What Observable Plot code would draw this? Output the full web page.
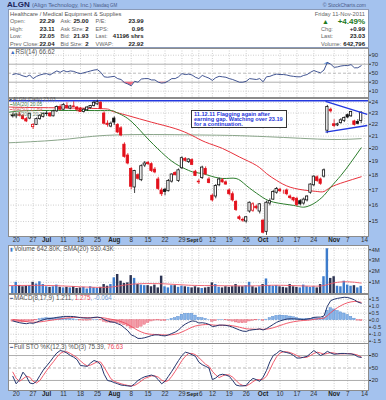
<!DOCTYPE html>
<html><head><meta charset="utf-8">
<script src="https://cdn.jsdelivr.net/npm/d3@7"></script>
<script src="https://cdn.jsdelivr.net/npm/@observablehq/plot@0.6"></script>
<style>
body{margin:0;background:#a4c2ee;font-family:"Liberation Sans",Arial,sans-serif;}
#wrap{position:relative;width:386px;height:400px;overflow:hidden;background:#a4c2ee;}
#info{position:absolute;left:8px;top:9px;width:359px;height:37px;background:#fff;border:1px solid #8a9ab8;}
#note{position:absolute;left:191px;top:110px;width:96px;height:18px;background:#fff;border:1px solid #333;color:#1f35d8;font-weight:bold;font-size:5.6px;line-height:5.2px;padding:1px 0 0 2px;box-sizing:border-box;}
</style></head><body><div id="wrap"><div id="info"></div></div>
<script>
// ---------------- DATA ----------------
const open  = [22.80,22.70,22.85,22.75,22.45,22.50,21.75,21.95,22.45,22.65,22.90,22.95,22.70,23.15,23.55,23.30,23.65,23.40,23.60,23.50,23.40,23.10,23.25,23.45,23.65,23.80,23.95,22.95,22.05,21.80,22.50,21.95,21.65,20.30,19.45,18.45,17.15,18.00,17.65,18.70,18.90,18.80,18.40,17.70,16.95,17.00,16.90,17.55,18.15,17.60,18.50,19.20,18.95,19.10,18.25,17.50,17.80,18.45,17.70,16.60,16.55,17.30,17.65,17.50,16.95,16.70,16.20,15.25,15.10,15.00,15.60,15.65,15.90,15.60,15.05,14.40,16.10,16.35,16.80,17.00,16.85,16.95,16.55,16.45,16.40,16.25,16.10,16.30,16.80,17.30,17.85,17.70,17.90,21.45,23.30,22.00,21.90,22.10,22.30,22.80,22.70,22.25,22.20,22.29];
const high  = [23.00,22.95,23.05,22.85,22.60,22.98,22.05,22.55,22.85,22.98,23.15,23.05,23.25,23.65,23.75,23.85,23.95,23.70,24.05,23.60,23.50,23.40,23.60,23.70,24.10,24.20,24.05,23.10,22.30,22.20,22.65,22.05,21.80,20.45,19.60,18.55,18.35,18.10,18.75,19.00,19.00,18.90,18.55,17.85,17.10,17.10,17.70,18.10,18.25,18.45,19.35,19.30,19.20,19.20,18.35,17.70,18.65,18.60,17.85,16.70,17.35,17.80,17.75,17.60,17.05,16.85,16.30,15.35,15.20,15.30,16.20,16.15,16.00,16.10,15.10,16.25,16.40,16.95,17.15,17.10,16.95,17.05,16.65,16.50,16.50,16.35,16.45,16.60,17.40,17.95,17.95,17.80,18.45,23.70,23.45,22.40,22.10,22.50,22.65,22.90,23.15,22.35,22.40,23.11];
const low   = [22.55,22.50,22.65,22.35,22.15,22.40,21.55,21.90,22.35,22.55,22.70,22.60,22.65,23.05,23.20,23.25,23.35,23.30,23.50,23.10,23.05,23.00,23.15,23.35,23.55,23.70,23.30,21.95,21.75,21.70,21.90,21.20,20.95,19.25,18.75,17.00,16.75,17.65,17.55,18.55,18.70,18.20,18.10,16.95,16.55,16.60,16.85,17.45,17.95,17.50,18.40,18.95,18.85,18.70,17.90,17.35,17.70,18.00,17.40,16.20,16.40,17.20,17.45,17.30,16.60,16.20,15.60,15.05,14.95,14.90,15.50,15.55,15.70,15.45,14.30,14.20,15.95,16.30,16.70,16.80,16.70,16.60,16.35,16.20,15.90,15.95,16.00,16.20,16.70,17.20,17.50,17.30,17.80,21.20,23.00,21.70,21.80,22.00,22.15,22.50,22.60,21.85,21.95,22.05];
const close = [22.70,22.85,22.75,22.45,22.25,22.92,21.95,22.45,22.75,22.90,22.95,22.70,23.15,23.55,23.30,23.75,23.45,23.60,23.55,23.30,23.10,23.30,23.50,23.65,23.95,24.00,23.40,22.05,21.95,22.05,22.15,21.30,21.05,19.35,18.85,17.20,18.30,17.75,18.65,18.85,18.80,18.30,18.20,17.05,16.70,16.85,17.60,18.05,18.00,18.35,19.25,19.05,19.15,18.75,17.95,17.55,18.55,18.05,17.45,16.30,17.25,17.70,17.50,17.35,16.70,16.30,15.70,15.15,15.05,15.25,16.15,16.05,15.80,16.05,14.35,16.15,16.25,16.85,17.05,16.90,16.85,16.70,16.45,16.30,16.00,16.05,16.35,16.55,17.35,17.90,17.60,17.40,18.35,23.55,23.15,21.85,22.00,22.35,22.55,22.60,23.10,21.95,22.04,23.03];
const volume = [0.62,1.00,0.72,0.60,0.65,0.70,1.00,0.85,1.05,0.80,0.60,0.55,0.60,0.75,0.55,0.50,0.55,0.50,0.60,0.45,0.50,0.55,0.40,0.60,0.50,0.45,0.55,0.80,0.65,0.80,1.40,1.70,1.10,0.90,0.95,1.60,1.35,0.80,0.75,0.70,0.70,0.60,0.75,0.50,1.55,0.60,0.50,0.70,0.70,0.55,0.65,0.60,0.55,0.50,0.60,0.50,0.45,0.50,0.55,0.95,0.80,0.55,0.50,0.60,0.55,0.60,0.80,0.60,0.60,0.70,1.00,0.60,0.50,0.60,0.80,1.30,0.70,0.65,0.70,0.60,0.55,0.50,0.80,0.60,0.55,0.50,0.75,0.60,0.55,0.60,0.50,0.80,1.50,4.00,1.35,1.50,0.65,0.60,1.10,0.75,0.65,0.70,0.50,0.643];
const volSma = [[-1.3,0.70],[10,0.72],[20,0.60],[28,0.56],[33,0.75],[38,0.88],[45,0.86],[52,0.74],[60,0.70],[70,0.68],[75,0.72],[80,0.73],[88,0.66],[92,0.72],[95,0.95],[99,1.05],[103,0.93]];
const ma20  = [[-1.3,23.05],[6,23.22],[26,23.22],[30,23.14],[34,22.50],[39,21.05],[44,19.69],[48,18.85],[52,18.34],[54,18.19],[56,18.12],[58,17.98],[62,17.77],[66,17.77],[69,17.29],[73,16.62],[77,16.19],[83,15.98],[86,15.87],[89,16.10],[92,16.62],[94,17.17],[97,17.98],[100,18.95],[103,20.05]];
const ma50  = [[-1.3,23.55],[6,23.50],[25,23.41],[29,23.22],[34,22.77],[41,22.18],[48,21.63],[53,21.05],[57,20.50],[62,20.00],[67,19.34],[72,18.71],[75,18.12],[78,17.63],[82,17.17],[87,16.95],[90,16.88],[92,16.88],[94,17.17],[98,17.52],[103,17.89]];
const ma200 = [[-1.3,20.45],[15,20.72],[30,21.09],[53,21.10],[65,21.05],[75,20.95],[85,20.82],[95,20.72],[103,20.79]];
const resistance = [24.13];
const flagLines = [[92.45,24.07,104.8,22.88],[92.45,21.33,104.8,21.89]];
const rsi = [47,49,47,44,42,46,38,43,46,48,49,46,51,55,52,56,53,55,54,51,49,51,53,55,57,58,52,42,41,42,43,38,36,29,26,22,32,30,37,38,38,35,35,30,28,29,33,38,38,42,49,47,48,46,41,38,45,42,39,34,40,43,42,41,38,36,33,30,30,32,38,37,36,38,31,42,43,46,48,47,47,46,44,43,42,42,45,47,52,56,53,51,57,74,70,63,64,66,67,67,69,62,62,66.62];
const macd = [-0.05,-0.12,-0.18,-0.22,-0.25,-0.2,-0.22,-0.15,-0.05,0.03,0.1,0.12,0.15,0.2,0.23,0.27,0.27,0.27,0.26,0.22,0.18,0.16,0.15,0.16,0.2,0.22,0.18,0.05,-0.05,-0.12,-0.15,-0.25,-0.35,-0.55,-0.75,-1.05,-1.15,-1.3,-1.3,-1.25,-1.18,-1.1,-1.05,-1.05,-1.1,-1.12,-1.05,-0.95,-0.85,-0.7,-0.45,-0.28,-0.15,-0.05,-0.08,-0.2,-0.18,-0.22,-0.3,-0.45,-0.42,-0.35,-0.35,-0.37,-0.42,-0.5,-0.6,-0.7,-0.78,-0.8,-0.72,-0.68,-0.66,-0.62,-0.7,-0.6,-0.45,-0.3,-0.15,-0.05,0.02,0.08,0.1,0.1,0.08,0.06,0.05,0.08,0.12,0.2,0.22,0.22,0.3,1.0,1.4,1.5,1.56,1.6,1.64,1.62,1.55,1.45,1.3,1.211];
const signal = [0.05,0.02,-0.02,-0.06,-0.1,-0.12,-0.14,-0.14,-0.12,-0.09,-0.05,-0.01,0.02,0.06,0.09,0.13,0.16,0.18,0.2,0.2,0.2,0.19,0.18,0.18,0.18,0.19,0.19,0.16,0.12,0.07,0.03,-0.03,-0.1,-0.19,-0.3,-0.45,-0.59,-0.73,-0.84,-0.93,-0.98,-1.01,-1.02,-1.03,-1.04,-1.06,-1.06,-1.04,-1.0,-0.94,-0.84,-0.73,-0.61,-0.5,-0.41,-0.37,-0.33,-0.31,-0.31,-0.34,-0.36,-0.36,-0.36,-0.36,-0.37,-0.4,-0.44,-0.5,-0.56,-0.61,-0.63,-0.64,-0.65,-0.64,-0.65,-0.64,-0.6,-0.54,-0.46,-0.38,-0.3,-0.22,-0.16,-0.11,-0.07,-0.04,-0.02,0.0,0.02,0.06,0.09,0.12,0.15,0.32,0.54,0.73,0.9,1.04,1.16,1.25,1.31,1.34,1.33,1.275];
const hist = [-0.10,-0.14,-0.16,-0.16,-0.15,-0.08,-0.08,-0.01,0.07,0.12,0.15,0.13,0.13,0.14,0.14,0.14,0.11,0.09,0.06,0.02,-0.02,-0.03,-0.03,-0.02,0.02,0.03,-0.01,-0.11,-0.17,-0.19,-0.18,-0.22,-0.25,-0.36,-0.45,-0.6,-0.56,-0.57,-0.46,-0.32,-0.2,-0.09,-0.03,-0.02,-0.06,-0.06,0.01,0.09,0.15,0.24,0.39,0.45,0.46,0.45,0.33,0.17,0.15,0.09,0.01,-0.11,-0.06,0.01,0.01,-0.01,-0.05,-0.1,-0.16,-0.2,-0.22,-0.19,-0.09,-0.04,-0.01,0.02,-0.05,0.04,0.15,0.24,0.31,0.33,0.32,0.3,0.26,0.21,0.15,0.1,0.07,0.08,0.1,0.14,0.13,0.1,0.15,0.68,0.86,0.77,0.66,0.56,0.48,0.37,0.24,0.11,-0.03,-0.064];
const stoK = [30,12,22,40,30,14,12,18,32,45,55,65,76,86,92,90,86,80,76,70,56,55,54,62,68,65,58,35,20,18,15,12,9,8,7,6,12,20,25,29,31,33,30,22,12,18,30,42,55,68,80,88,86,82,78,64,58,54,50,22,26,33,35,33,30,20,9,7,7,8,18,25,22,18,28,44,65,80,85,92,89,87,85,80,74,74,76,78,85,92,86,80,84,90,86,83,84,85,85,84,84,82,77,75.39];
const stoD = [40,25,18,24,30,28,18,14,20,32,44,55,65,76,85,89,89,85,80,75,67,60,55,57,61,65,64,52,38,24,18,15,12,10,8,7,8,13,19,25,28,31,31,28,21,17,20,30,42,55,68,78,85,85,82,75,67,59,54,42,33,27,31,34,33,28,20,12,8,7,11,17,22,22,23,30,46,63,77,86,89,89,87,84,80,76,75,76,80,85,88,86,83,85,87,86,84,84,84,85,84,83,81,76.63];
const tickDays = [[1,"20"],[6,"27"],[10,"Jul"],[15,"11"],[20,"18"],[25,"25"],[30,"Aug"],[35,"8"],[40,"15"],[45,"22"],[50,"29"],[53,"Sept"],[55,"6"],[59,"12"],[64,"19"],[69,"26"],[74,"Oct"],[79,"10"],[84,"17"],[89,"24"],[95,"Nov"],[99,"7"],[104,"14"]];
const monthLabels = ["Jul","Aug","Sept","Oct","Nov"];
const priceTicks = [15,16,17,18,19,20,21,22,23,24];
const rsiTicks = [10,30,50,70,90];
const volTicks = [1,2,3,4];
const macdTicks = [-1.5,-1,-0.5,0,0.5,1,1.5];
const stoTicks = [20,50,80];

// ---------------- BUILD ----------------
const wrap = document.getElementById("wrap");
const FONT = "Liberation Sans, Arial, sans-serif";
const xDomain = [-1.28, 105.16];
const ticks = tickDays.map(([i,label]) => ({i, label, month: monthLabels.includes(label)}));
const candles = close.map((c,i) => ({i, o:open[i], h:high[i], l:low[i], c,
  col: (i>0 && c < close[i-1]) ? "#e3101b" : "#111"}));
const series = (arr) => arr.map((v,i) => ({i, v}));
const pairs = (arr) => arr.map(([i,v]) => ({i, v}));
const GRID = {stroke:"#b9b9b9", strokeDasharray:"1,1.5", strokeWidth:0.7};

function panel(top, h, mb, y, marks) {
  const svg = Plot.plot({
    width:386, height:h, marginLeft:8, marginRight:18, marginTop:0, marginBottom:mb,
    x:{domain:xDomain, axis:null, label:null}, y:{...y, axis:null, label:null}, color:{type:"identity"},
    style:{background:"transparent", fontFamily:FONT, fontSize:"6px", overflow:"visible"},
    marks:[Plot.frame({fill:"white"}), Plot.ruleX(ticks, {x:"i", ...GRID}), ...marks, Plot.frame({stroke:"#8c8c8c"})]
  });
  svg.style.position = "absolute"; svg.style.left = "0px"; svg.style.top = top + "px";
  wrap.appendChild(svg);
}
const rightAxis = (t, fmt, fs=6) => Plot.axisY({anchor:"right", label:null, ticks:t, tickFormat:fmt, tickSize:2, tickPadding:1, fontSize:fs, color:"#333"});
const dateLabels = (dy) => [
  Plot.text(ticks.filter(d=>!d.month && d.label!=="6"), {x:"i", text:"label", frameAnchor:"bottom", dy, fontSize:6.3, fill:"#333"}),
  Plot.text(ticks.filter(d=>d.label==="6"), {x:"i", text:"label", frameAnchor:"bottom", dy, dx:2, fontSize:6.3, fill:"#333"}),
  Plot.text(ticks.filter(d=>d.month && d.label!=="Sept"), {x:"i", text:"label", frameAnchor:"bottom", dy, fontSize:6.3, fill:"#222", fontWeight:"bold"}),
  Plot.text(ticks.filter(d=>d.label==="Sept"), {x:"i", text:"label", frameAnchor:"bottom", dy, dx:-5.6, textAnchor:"start", fontSize:5.5, fill:"#222", fontWeight:"bold"})
];

// RSI
const rsiData = series(rsi);
panel(48, 49, 0, {domain:[-4,104.9]}, [
  Plot.ruleY([10,90], GRID),
  Plot.ruleY([70,30], {stroke:"#999", strokeWidth:0.8}),
  Plot.ruleY([50], {stroke:"#aaa", strokeDasharray:"3,2", strokeWidth:0.8}),
  Plot.areaY(rsiData, {x:"i", y1:70, y2:d=>Math.max(d.v,70), fill:"#5a8fd8"}),
  Plot.areaY(rsiData, {x:"i", y1:30, y2:d=>Math.min(d.v,30), fill:"#ee6a7d"}),
  Plot.lineY(rsiData, {x:"i", y:"v", stroke:"#2d4286", strokeWidth:0.9}),
  rightAxis(rsiTicks)
]);

// Price
panel(98, 147, 9, {type:"log", domain:[14.138,24.352]}, [
  Plot.ruleY(priceTicks, GRID),
  Plot.lineY(pairs(ma200), {x:"i", y:"v", stroke:"#8aa58a", strokeWidth:1, curve:"natural"}),
  Plot.lineY(pairs(ma50), {x:"i", y:"v", stroke:"#e8323c", strokeWidth:1, curve:"natural"}),
  Plot.lineY(pairs(ma20), {x:"i", y:"v", stroke:"#2c7d2c", strokeWidth:1, curve:"natural"}),
  Plot.ruleY(resistance, {stroke:"#2338df", strokeWidth:1.4}),
  Plot.ruleX(candles, {x:"i", y1:"l", y2:"h", stroke:"col", strokeWidth:0.8}),
  Plot.rect(candles, {x1:d=>d.i-0.34, x2:d=>d.i+0.34, y1:"o", y2:"c", fill:d=>d.c>=d.o?"white":d.col, stroke:"col", strokeWidth:0.8}),
  Plot.link(flagLines, {x1:d=>d[0], y1:d=>d[1], x2:d=>d[2], y2:d=>d[3], stroke:"#2338df", strokeWidth:1.4}),
  rightAxis(priceTicks),
  ...dateLabels(5)
]);

// Volume
panel(245, 48, 0, {domain:[0,4.29]}, [
  Plot.ruleY(volTicks, GRID),
  Plot.rectY(candles.map(d=>({i:d.i, v:volume[d.i], up: d.c>=(d.i>0?close[d.i-1]:d.c)})),
    {x1:d=>d.i-0.36, x2:d=>d.i+0.36, y:"v", fill:d=>d.up?"#3d7ccc":"#2d3452"}),
  Plot.lineY(pairs(volSma), {x:"i", y:"v", stroke:"#ef5a6a", strokeWidth:0.9, curve:"natural"}),
  Plot.axisY({anchor:"right", label:null, ticks:volTicks.slice(0,3), tickFormat:d=>d+"M", tickSize:2, tickPadding:1, fontSize:6, color:"#333"}),
  Plot.axisY({anchor:"right", label:null, ticks:[4], tickFormat:d=>d+"M", tickSize:2, tickPadding:1, fontSize:6, color:"#333", dy:1})
]);

// MACD
panel(294, 49, 0, {domain:[-1.664,1.836]}, [
  Plot.ruleY(macdTicks, GRID),
  Plot.rectY(series(hist), {x1:d=>d.i-0.38, x2:d=>d.i+0.38, y1:0, y2:"v", fill:d=>d.v>=0?"#86b3e8":"#f49aa6", stroke:d=>d.v>=0?"#4f86cc":"#e2576a", strokeWidth:0.4}),
  Plot.lineY(series(signal), {x:"i", y:"v", stroke:"#ef4a5c", strokeWidth:0.9}),
  Plot.lineY(series(macd), {x:"i", y:"v", stroke:"#25366e", strokeWidth:1}),
  rightAxis(macdTicks, d=>d.toFixed(1), 5.5)
]);

// Stochastic
panel(343, 57, 10, {domain:[-4.1,108.9]}, [
  Plot.ruleY([80,20], {stroke:"#999", strokeWidth:0.8}),
  Plot.ruleY([50], {stroke:"#aaa", strokeDasharray:"3,2", strokeWidth:0.8}),
  Plot.lineY(series(stoD), {x:"i", y:"v", stroke:"#ef4a5c", strokeWidth:0.9}),
  Plot.lineY(series(stoK), {x:"i", y:"v", stroke:"#25366e", strokeWidth:1}),
  rightAxis(stoTicks),
  ...dateLabels(5.5)
]);

// ---------------- TEXT ----------------
function txt(x, y, parts, {size=6.3, align="left", lh=null}={}) {
  const e = document.createElement("div");
  const h = lh ?? size + 1;
  e.style.cssText = `position:absolute;white-space:nowrap;font-size:${size}px;line-height:${h}px;height:${h}px;top:${y-h/2}px;`;
  if (align === "right") e.style.right = (386 - x) + "px"; else e.style.left = x + "px";
  for (const p of (typeof parts === "string" ? [[parts]] : parts)) {
    const s = document.createElement("span");
    s.textContent = p[0];
    s.style.color = p[1] || "#555";
    if (p[2]) s.style.fontWeight = p[2];
    if (p[3]) s.style.fontSize = p[3] + "px";
    e.appendChild(s);
  }
  wrap.appendChild(e);
}
// header
txt(7, 5, [["ALGN ","#1b2459","bold",8],["(Align Technology, Inc.) ","#4a5a88",null,5.8],["Nasdaq GM","#4a5a88",null,4.5]]);
txt(366, 5, [["© StockCharts.com","#4a5a88",null,5]], {align:"right"});
// info box
const rows = [21.7, 29.3, 36.7, 44];
const L = {size:5.6}, V = {size:6, align:"right"};
txt(10, 14, [["Healthcare / Medical Equipment & Supplies","#555"]], {size:5.8});
const col1 = [["Open:","22.29"],["High:","23.11"],["Low:","22.05"],["Prev Close:","22.04"]];
const col2 = [["Ask:","25.00"],["Ask Size:","2"],["Bid:","21.93"],["Bid Size:","2"]];
const col3 = [["P/E:","23.99"],["EPS:","0.96"],["Last:","41196 shrs"],["VWAP:","22.92"]];
rows.forEach((y,k) => {
  txt(10, y, [[col1[k][0],"#666"]], L); txt(54.5, y, [[col1[k][1],"#222","bold"]], V);
  txt(60.5, y, [[col2[k][0],"#666"]], L); txt(88.5, y, [[col2[k][1],"#222","bold"]], V);
  txt(95.5, y, [[col3[k][0],"#666"]], L); txt(143.5, y, [[col3[k][1],"#222","bold"]], V);
});
txt(365, 14, [["Friday 11-Nov-2011","#666"]], {size:5.8, align:"right"});
txt(322, 21.7, [["▲","#1e7a1e",null,7]]);
txt(365, 21.7, [["+4.49%","#1e7a1e","bold",8]], {align:"right"});
const col4 = [["Chg:","+0.99"],["Last:","23.03"],["Volume:","642,796"]];
col4.forEach(([a,b],k) => { const y = rows[k+1]; txt(321, y, [[a,"#666"]], L); txt(365, y, [[b,"#222","bold"]], V); });
// legends
txt(10, 52, [["▲","#3d6fc4",null,5.5],["RSI(14) 66.62","#555"]]);
const LG = {size:4.9, lh:4.9};
txt(9.5, 100.8, [["■ ","#555",null,4],["ALGN (Daily) 23.03","#555"]], LG);
txt(9.5, 105.8, [["━ ","#2c7d2c",null,4],["MA(20) 20.05","#4d7d4d"]], LG);
txt(9.5, 110.8, [["━ ","#e8323c",null,4],["MA(50) 17.89","#d45a60"]], LG);
txt(9.5, 115.8, [["━ ","#8aa58a",null,4],["MA(200) 20.79","#6e886e"]], LG);
txt(9.5, 248.5, [["▮ ","#3d7ccc",null,5],["Volume 642.80K, SMA(20) 930.43K","#555"]]);
txt(9.5, 297.5, [["━ ","#25366e",null,5],["MACD(8,17,9) 1.211, ","#555"],["1.275","#ef4a5c"],[", -0.064","#6d9ad8"]]);
txt(9.5, 347, [["━ ","#25366e",null,5],["Full STO %K(12,3) %D(3) 75.39, ","#555"],["76.63","#ef4a5c"]]);
// annotation note
const note = document.createElement("div");
note.id = "note";
note.innerHTML = "11.12.11 Flagging again after<br>earning gap. Watching over 23.19<br>for a continuation.";
wrap.appendChild(note);
</script></body></html>
